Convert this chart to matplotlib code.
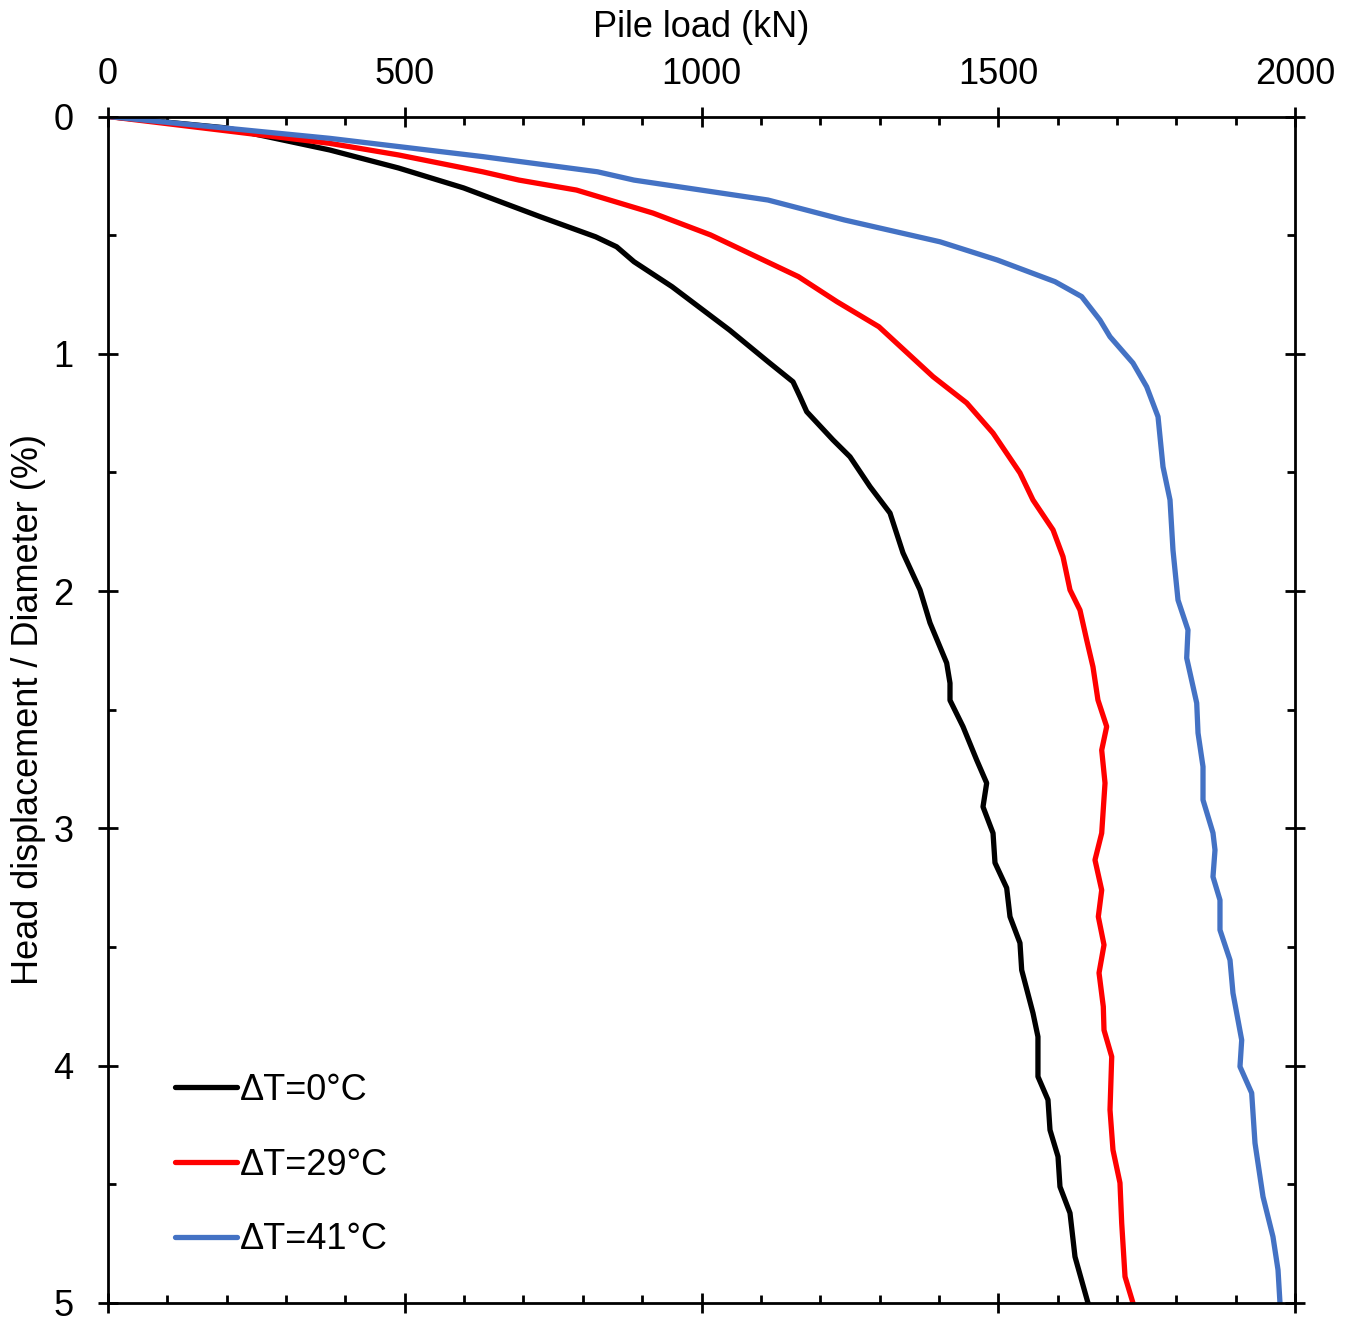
import matplotlib
matplotlib.use("Agg")
import matplotlib.pyplot as plt
from matplotlib.ticker import MultipleLocator

plt.rcParams['font.family'] = ['Liberation Sans', 'DejaVu Sans']

# Data (pile load in kN, head displacement / diameter in %)
load_0 = [0, 198.8, 373.4, 489.5, 599.2, 727.9, 821.7, 857, 886.3, 950.3, 1047.3, 1112,
          1154.2, 1166, 1177.3, 1221.6, 1250.2, 1284, 1317.6, 1339.5, 1368.2, 1385, 1413.1,
          1418.7, 1418.7, 1440.6, 1463.7, 1480.5, 1474.3, 1491.2, 1494.5, 1514.2, 1519.8,
          1536.6, 1539.5, 1558.5, 1566.9, 1566.9, 1583.8, 1587.2, 1600.7, 1604, 1620.9,
          1629.3, 1651.2]
disp_0 = [0, 0.048, 0.141, 0.217, 0.301, 0.422, 0.507, 0.549, 0.612, 0.717, 0.900, 1.033,
          1.118, 1.181, 1.244, 1.363, 1.434, 1.560, 1.671, 1.839, 1.995, 2.134, 2.303,
          2.388, 2.460, 2.571, 2.712, 2.809, 2.909, 3.020, 3.145, 3.251, 3.372,
          3.483, 3.597, 3.778, 3.878, 4.046, 4.144, 4.271, 4.383, 4.510, 4.621,
          4.805, 5.0]

load_29 = [0, 373.4, 489.5, 631.3, 692.5, 789.4, 918.3, 1015.2, 1163.4, 1228, 1298.9, 1390,
           1446.8, 1491.2, 1536.6, 1558.5, 1592.3, 1609.1, 1620.9, 1637.7, 1649, 1659.6,
           1668, 1682.7, 1674.3, 1679.9, 1674.3, 1663, 1674.3, 1668.6, 1678.2, 1669.8,
           1677, 1678.2, 1691.2, 1688.3, 1693.3, 1705.1, 1708, 1713.6, 1727]
disp_29 = [0, 0.113, 0.162, 0.233, 0.268, 0.310, 0.407, 0.499, 0.675, 0.780, 0.886, 1.096,
           1.207, 1.334, 1.502, 1.616, 1.742, 1.855, 1.995, 2.080, 2.206, 2.319,
           2.459, 2.571, 2.670, 2.809, 3.020, 3.133, 3.260, 3.372, 3.491, 3.609,
           3.751, 3.850, 3.962, 4.186, 4.355, 4.494, 4.663, 4.889, 5.0]

load_41 = [0, 373.4, 631.3, 824.8, 886.3, 1112, 1240.8, 1401.9, 1498.7, 1595.6, 1640.6,
           1671.4, 1688.3, 1727, 1750.1, 1769.2, 1777.6, 1789.4, 1794.4, 1802.9, 1819.7,
           1817.5, 1834.4, 1836.6, 1845, 1845, 1861.8, 1865.2, 1861.8, 1873.6, 1873.6,
           1890.5, 1895.5, 1910.2, 1907.3, 1927, 1932.6, 1946.1, 1962.9, 1971.4, 1974.7]
disp_41 = [0, 0.092, 0.169, 0.233, 0.268, 0.352, 0.436, 0.528, 0.605, 0.696, 0.759,
           0.858, 0.928, 1.039, 1.139, 1.265, 1.476, 1.616, 1.827, 2.038, 2.164,
           2.282, 2.472, 2.598, 2.740, 2.880, 3.019, 3.091, 3.204, 3.302, 3.428,
           3.555, 3.694, 3.892, 4.004, 4.115, 4.326, 4.552, 4.721, 4.861, 5.0]

labels = ['ΔT=0°C', 'ΔT=29°C', 'ΔT=41°C']
colors = ['#000000', '#FF0000', '#4472C4']

W, H = 1356, 1320
fig = plt.figure(figsize=(W / 100, H / 100), dpi=100)
ax = fig.add_axes([108 / W, 1 - 1303 / H, (1295 - 108) / W, (1303 - 116.5) / H])

for x, y, lab, c in zip([load_0, load_29, load_41], [disp_0, disp_29, disp_41], labels, colors):
    ax.plot(x, y, color=c, lw=3.8, label=lab, solid_capstyle='round',
            solid_joinstyle='round')

ax.set_xlim(0, 2000)
ax.set_ylim(5, 0)
ax.xaxis.set_major_locator(MultipleLocator(500))
ax.xaxis.set_minor_locator(MultipleLocator(100))
ax.yaxis.set_major_locator(MultipleLocator(1))
ax.yaxis.set_minor_locator(MultipleLocator(0.5))

ax.xaxis.set_ticks_position('both')
ax.yaxis.set_ticks_position('both')
ax.xaxis.set_label_position('top')
ax.tick_params(axis='x', which='both', labeltop=True, labelbottom=False)
ax.tick_params(which='major', direction='inout', length=14, width=2, labelsize=26)
ax.tick_params(which='minor', direction='in', length=6, width=2)
ax.tick_params(axis='x', which='major', pad=11)
ax.tick_params(axis='y', which='major', pad=18)
for s in ax.spines.values():
    s.set_linewidth(2)

ax.set_xlabel('Pile load (kN)', fontsize=26, labelpad=14)
ax.set_ylabel('Head displacement / Diameter (%)', fontsize=26, labelpad=5)

ax.legend(loc='upper left', bbox_to_anchor=(0.0564, 0.194), frameon=False, fontsize=26,
          handlelength=1.72, handletextpad=0.08, labelspacing=1.1, borderpad=0,
          borderaxespad=0)

fig.savefig('out.png', dpi=100)
